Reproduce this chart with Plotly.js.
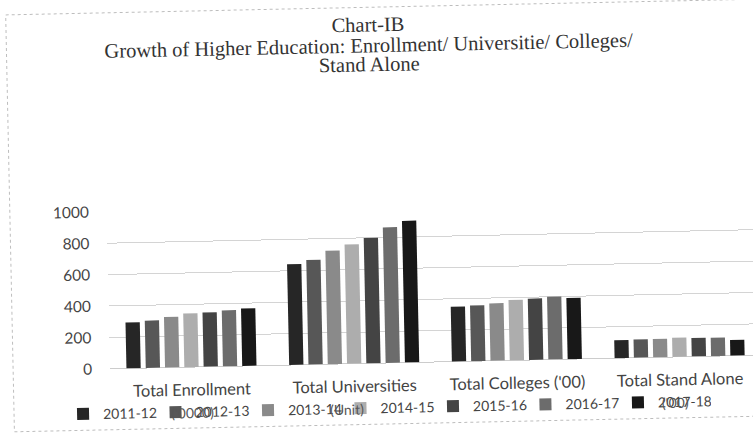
<!DOCTYPE html>
<html>
<head>
<meta charset="utf-8">
<script src="https://cdn.plot.ly/plotly-3.0.1.min.js"></script>
<style>
  html, body { margin: 0; padding: 0; background: #ffffff; overflow: hidden; width: 753px; height: 434px; }
  #chart { width: 770px; height: 434px; transform: rotate(-1.2deg); transform-origin: 385px 217px; }
</style>
</head>
<body>
<div id="chart"></div>
<script>
// Growth of higher education, 2011-12 to 2017-18
const categories = ["Total Enrollment", "Total Universities", "Total Colleges ('00)", "Total Stand Alone"];
const years = ["2011-12", "2012-13", "2013-14", "2014-15", "2015-16", "2016-17", "2017-18"];

// one array per year: enrollment ('0000), universities (unit), colleges ('00), stand alone ('00)
const y2011_12 = [292, 642, 349, 114];
const y2012_13 = [302, 667, 355, 116];
const y2013_14 = [323, 723, 366, 117];
const y2014_15 = [342, 760, 385, 123];
const y2015_16 = [346, 799, 391, 119];
const y2016_17 = [357, 864, 400, 117];
const y2017_18 = [366, 903, 390, 100];

const yTicks = [0, 200, 400, 600, 800, 1000];

const seriesValues = [y2011_12, y2012_13, y2013_14, y2014_15, y2015_16, y2016_17, y2017_18];
const seriesColors = ["#262626", "#575757", "#8a8a8a", "#adadad", "#444444", "#6c6c6c", "#181818"];

const traces = years.map((yr, i) => ({
  type: "bar",
  name: yr,
  x: categories,
  y: seriesValues[i],
  marker: { color: seriesColors[i] },
  hoverinfo: "x+y+name"
}));

const serif = "Liberation Serif, Times New Roman, serif";
const sans = "Lato, Open Sans, sans-serif";

// plot area in pixels
const W = 770, H = 434, L = 107, R = 12, T = 206, B = 71;
const plotW = W - L - R, plotH = H - T - B;
const px = x => (x - L) / plotW;          // page x -> paper x
const py = y => (H - B - y) / plotH;      // page y -> paper y

const noteFont = { family: sans, size: 14, color: "#555555" };
const titleFont = { family: serif, size: 20.5, color: "#333333" };

const layout = {
  width: W,
  height: H,
  margin: { l: L, r: R, t: T, b: B, autoexpand: false },
  paper_bgcolor: "#ffffff",
  plot_bgcolor: "#ffffff",
  barmode: "group",
  bargap: 0.17,
  bargroupgap: 0.26,
  showlegend: true,
  title: {
    text: "Chart-IB",
    font: titleFont,
    xref: "container", x: 372 / W, xanchor: "center",
    yref: "container", y: 1 - 24 / H, yanchor: "middle"
  },
  annotations: [
    { text: "Growth of Higher Education: Enrollment/ Universitie/ Colleges/",
      xref: "paper", yref: "paper", x: px(372), y: py(45), showarrow: false,
      xanchor: "center", yanchor: "middle", font: titleFont },
    { text: "Stand Alone",
      xref: "paper", yref: "paper", x: px(372), y: py(64), showarrow: false,
      xanchor: "center", yanchor: "middle", font: titleFont },
    // unit notes sitting on top of the legend entries
    { text: "('0000)", xref: "paper", yref: "paper", x: px(188), y: py(408), showarrow: false,
      xanchor: "center", yanchor: "middle", font: noteFont },
    { text: "(Unit)", xref: "paper", yref: "paper", x: px(343), y: py(408), showarrow: false,
      xanchor: "center", yanchor: "middle", font: noteFont },
    { text: "('00)", xref: "paper", yref: "paper", x: px(671), y: py(408), showarrow: false,
      xanchor: "center", yanchor: "middle", font: noteFont }
  ],
  shapes: [
    { type: "rect", xref: "paper", yref: "paper",
      x0: px(10), x1: px(790), y0: py(424), y1: py(7),
      line: { color: "#bdbdbd", width: 1, dash: "dot" }, fillcolor: "rgba(0,0,0,0)", layer: "below" }
  ],
  xaxis: {
    type: "category",
    range: [-0.5, 3.5],
    showgrid: false,
    showline: false,
    zeroline: false,
    ticks: "",
    ticklabelstandoff: 11,
    tickfont: { family: sans, size: 16.5, color: "#444444" },
    fixedrange: true
  },
  yaxis: {
    range: [0, 1000],
    tickvals: yTicks,
    ticktext: yTicks.map(String),
    showgrid: true,
    gridcolor: "#d4d4d4",
    gridwidth: 1,
    zeroline: true,
    zerolinecolor: "#cccccc",
    zerolinewidth: 1,
    showline: false,
    ticks: "",
    ticklabelstandoff: 17,
    tickfont: { family: sans, size: 15.5, color: "#444444" },
    fixedrange: true
  },
  legend: {
    orientation: "h",
    x: px(59), xanchor: "left",
    y: py(408), yanchor: "middle",
    font: { family: sans, size: 14, color: "#444444" },
    itemwidth: 30,
    entrywidth: 47.5,
    entrywidthmode: "pixels",
    traceorder: "normal",
    bgcolor: "rgba(0,0,0,0)"
  }
};

Plotly.newPlot("chart", traces, layout, { displayModeBar: false, staticPlot: true });
</script>
</body>
</html>
